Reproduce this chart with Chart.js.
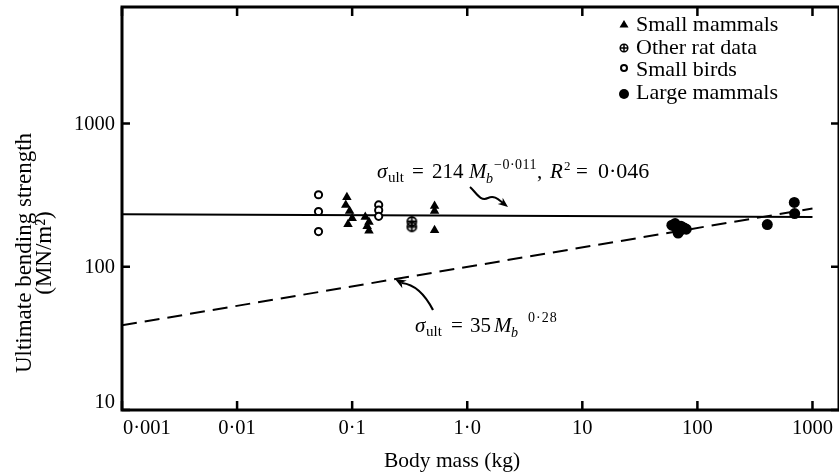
<!DOCTYPE html>
<html>
<head>
<meta charset="utf-8">
<script src="https://cdn.jsdelivr.net/npm/chart.js@4.4.1/dist/chart.umd.min.js"></script>
<style>
  body { margin: 0; background: #fff; }
  #wrap { width: 839px; height: 473px; overflow: hidden; }
</style>
</head>
<body>
<div id="wrap"><canvas id="chart" width="845" height="473"></canvas></div>
<script>
// tick values and labels
const massTicks = [0.001, 0.01, 0.1, 1, 10, 100, 1000];
const massTickLabels = ["0·001", "0·01", "0·1", "1·0", "10", "100", "1000"];
const strengthTicks = [10, 100, 1000];
const strengthTickLabels = ["10", "100", "1000"];

// small mammals (triangles)
const smallMammalsMass = [0.09, 0.088, 0.095, 0.1, 0.092, 0.13, 0.14, 0.135, 0.14, 0.52, 0.52, 0.52];
const smallMammalsStrength = [305, 270, 245, 218, 198, 222, 205, 192, 178, 265, 245, 180];

// other rat data
const ratMass = [0.33, 0.33];
const ratStrength = [207, 190];

// small birds
const birdMass = [0.051, 0.051, 0.051, 0.17, 0.17, 0.17];
const birdStrength = [318, 243, 176, 270, 248, 225];

// large mammals
const largeMass = [60, 66, 72, 70, 77, 64, 68, 80, 405, 695, 700];
const largeStrength = [195, 185, 192, 178, 186, 200, 172, 183, 197, 281, 235];

// fitted lines at their ends
const fitMass = [0.001, 1000];
const fitStrength = [232, 222];
const scalingMass = [0.001, 1000];
const scalingStrength = [39, 255];

const pts = (xs, ys) => xs.map((x, i) => ({ x: x, y: ys[i] }));

const FONT = '"Liberation Serif", "DejaVu Serif", serif';

// circle with a cross for "other rat data"
function makeCrossCircle(r, w) {
  const c = document.createElement("canvas");
  const s = Math.ceil(r * 2 + 4);
  c.width = s; c.height = s;
  const g = c.getContext("2d");
  g.strokeStyle = "#000";
  g.lineWidth = w;
  g.beginPath();
  g.arc(s / 2, s / 2, r, 0, Math.PI * 2);
  g.stroke();
  g.beginPath();
  g.moveTo(s / 2 - r, s / 2); g.lineTo(s / 2 + r, s / 2);
  g.moveTo(s / 2, s / 2 - r); g.lineTo(s / 2, s / 2 + r);
  g.stroke();
  return c;
}
const crossCircle = makeCrossCircle(4.5, 1.8);
const crossCircleSmall = makeCrossCircle(3.8, 1.5);

// formula pieces placed one by one: [text, x, dy, size, italic, spacing]
function formula(ctx, y, parts) {
  ctx.textAlign = "left";
  ctx.textBaseline = "alphabetic";
  parts.forEach((p) => {
    ctx.font = (p[4] ? "italic " : "") + p[3] + "px " + FONT;
    ctx.letterSpacing = (p[5] || 0) + "px";
    ctx.fillText(p[0], p[1], y + p[2]);
  });
  ctx.letterSpacing = "0px";
}

function arrowHead(ctx, x, y, ang, len, wid) {
  ctx.save();
  ctx.translate(x, y);
  ctx.rotate(ang);
  ctx.beginPath();
  ctx.moveTo(0, 0);
  ctx.lineTo(-len, -wid);
  ctx.lineTo(-len * 0.7, 0);
  ctx.lineTo(-len, wid);
  ctx.closePath();
  ctx.fill();
  ctx.restore();
}

const decorations = {
  id: "decorations",
  afterDraw(chart) {
    const ctx = chart.ctx;
    const a = chart.chartArea;
    const xs = chart.scales.x;
    const ys = chart.scales.y;
    ctx.save();
    ctx.fillStyle = "#000";
    ctx.strokeStyle = "#000";

    // frame
    ctx.lineWidth = 3;
    ctx.strokeRect(a.left, a.top, a.right - a.left, a.bottom - a.top);

    // inward ticks
    ctx.lineWidth = 2.5;
    ctx.beginPath();
    massTicks.forEach((v) => {
      const px = xs.getPixelForValue(v);
      ctx.moveTo(px, a.bottom); ctx.lineTo(px, a.bottom - 9);
      ctx.moveTo(px, a.top); ctx.lineTo(px, a.top + 9);
    });
    strengthTicks.forEach((v) => {
      const py = ys.getPixelForValue(v);
      ctx.moveTo(a.left, py); ctx.lineTo(a.left + 8, py);
      ctx.moveTo(a.right, py); ctx.lineTo(a.right - 8, py);
    });
    ctx.stroke();

    // tick labels
    ctx.font = "20.5px " + FONT;
    ctx.textBaseline = "alphabetic";
    massTicks.forEach((v, i) => {
      const px = xs.getPixelForValue(v);
      ctx.textAlign = i === 0 ? "left" : "center";
      ctx.fillText(massTickLabels[i], i === 0 ? px + 1 : px, a.bottom + 24);
    });
    ctx.textAlign = "right";
    strengthTicks.forEach((v, i) => {
      const py = ys.getPixelForValue(v);
      ctx.textBaseline = i === 0 ? "alphabetic" : "middle";
      ctx.fillText(strengthTickLabels[i], a.left - 7, i === 0 ? py - 2 : py + 1);
    });

    // axis titles
    ctx.textAlign = "center";
    ctx.textBaseline = "alphabetic";
    ctx.font = "21.5px " + FONT;
    ctx.fillText("Body mass (kg)", 452, 467);
    ctx.save();
    ctx.translate(0, 253);
    ctx.rotate(-Math.PI / 2);
    ctx.font = "23px " + FONT;
    ctx.textBaseline = "middle";
    ctx.fillText("Ultimate bending strength", 0, 25);
    ctx.fillText("(MN/m²)", 0, 45);
    ctx.restore();

    // legend
    const lx = 624, tx = 636;
    const rows = [24, 47, 69, 92];
    const names = ["Small mammals", "Other rat data", "Small birds", "Large mammals"];
    ctx.font = "22px " + FONT;
    ctx.textAlign = "left";
    ctx.textBaseline = "middle";
    names.forEach((n, i) => ctx.fillText(n, tx, rows[i] + 1));
    ctx.beginPath();
    ctx.moveTo(lx, rows[0] - 4); ctx.lineTo(lx + 4.5, rows[0] + 3.5); ctx.lineTo(lx - 4.5, rows[0] + 3.5);
    ctx.closePath(); ctx.fill();
    ctx.drawImage(crossCircleSmall, lx - crossCircleSmall.width / 2, rows[1] + 1 - crossCircleSmall.height / 2);
    ctx.lineWidth = 2;
    ctx.beginPath(); ctx.arc(lx, rows[2] - 1, 3, 0, Math.PI * 2); ctx.stroke();
    ctx.beginPath(); ctx.arc(lx, rows[3] + 2, 5, 0, Math.PI * 2); ctx.fill();

    // annotation for the fitted line
    formula(ctx, 178, [
      ["σ", 377, 0, 21, true],
      ["ult", 388, 4, 15],
      ["=", 412, 0, 21],
      ["214", 432, 0, 21],
      ["M", 469, 0, 21, true],
      ["b", 486, 5, 14, true],
      ["−0·011", 494, -9, 14, false, 0.5],
      [",", 537, 0, 21],
      ["R", 550, 0, 21, true],
      ["2", 564, -8, 13],
      ["=", 576, 0, 21],
      ["0·046", 598, 0, 22]
    ]);
    ctx.lineWidth = 2;
    ctx.beginPath();
    ctx.moveTo(470, 187);
    ctx.bezierCurveTo(476, 192, 480, 202, 488, 198);
    ctx.bezierCurveTo(494, 195, 498, 199, 503, 203);
    ctx.stroke();
    arrowHead(ctx, 508, 207, Math.atan2(4, 5), 10, 4);

    // annotation for the scaling line
    formula(ctx, 332, [
      ["σ", 415, 0, 21, true],
      ["ult", 426, 4, 15],
      ["=", 451, 0, 21],
      ["35", 470, 0, 21],
      ["M", 494, 0, 21, true],
      ["b", 511, 5, 14, true],
      ["0·28", 528, -10, 14, false, 1]
    ]);
    ctx.lineWidth = 2.2;
    ctx.beginPath();
    ctx.moveTo(433, 310);
    ctx.quadraticCurveTo(420, 285, 402, 283);
    ctx.stroke();
    arrowHead(ctx, 395, 279, Math.atan2(-4, -7), 11, 4.5);

    ctx.restore();
  }
};

new Chart(document.getElementById("chart"), {
  type: "scatter",
  data: {
    datasets: [
      {
        label: "Small mammals",
        data: pts(smallMammalsMass, smallMammalsStrength),
        pointStyle: "triangle",
        pointRadius: 5.5,
        backgroundColor: "#000",
        borderColor: "#000",
        borderWidth: 0,
        order: 0
      },
      {
        label: "Other rat data",
        data: pts(ratMass, ratStrength),
        pointStyle: crossCircle,
        order: 0
      },
      {
        label: "Small birds",
        data: pts(birdMass, birdStrength),
        pointStyle: "circle",
        pointRadius: 3.6,
        backgroundColor: "#fff",
        borderColor: "#000",
        borderWidth: 2,
        order: 0
      },
      {
        label: "Large mammals",
        data: pts(largeMass, largeStrength),
        pointStyle: "circle",
        pointRadius: 5.5,
        backgroundColor: "#000",
        borderColor: "#000",
        borderWidth: 0,
        order: 0
      },
      {
        label: "fit",
        data: pts(fitMass, fitStrength),
        showLine: true,
        pointRadius: 0,
        borderColor: "#000",
        borderWidth: 2,
        order: 1
      },
      {
        label: "scaling",
        data: pts(scalingMass, scalingStrength),
        showLine: true,
        pointRadius: 0,
        borderColor: "#000",
        borderWidth: 2,
        borderDash: [15, 8],
        order: 1
      }
    ]
  },
  options: {
    responsive: false,
    animation: false,
    devicePixelRatio: 1,
    layout: { padding: { left: 122, top: 7, right: 4, bottom: 63 } },
    scales: {
      x: { type: "logarithmic", min: 0.001, max: 1700, display: false },
      y: { type: "logarithmic", min: 10, max: 6500, display: false }
    },
    plugins: {
      legend: { display: false },
      tooltip: { enabled: false }
    }
  },
  plugins: [decorations]
});
</script>
</body>
</html>
